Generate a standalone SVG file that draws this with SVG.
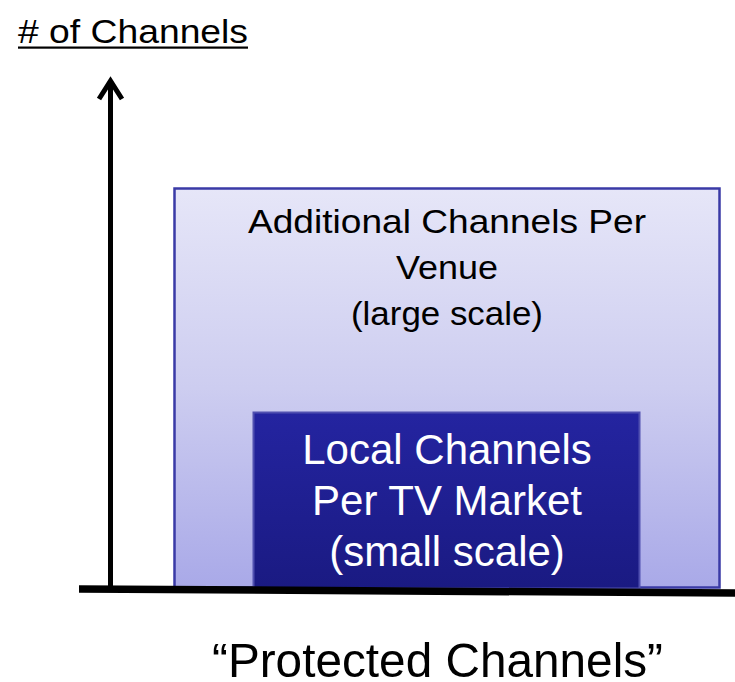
<svg xmlns="http://www.w3.org/2000/svg" width="735" height="682" viewBox="0 0 735 682">
<defs>
<linearGradient id="gOuter" x1="0" y1="0" x2="0" y2="1">
<stop offset="0" stop-color="#e6e6f8"/>
<stop offset="0.5" stop-color="#cdcdf0"/>
<stop offset="1" stop-color="#a9a9e8"/>
</linearGradient>
<linearGradient id="gInner" x1="0" y1="0" x2="0" y2="1">
<stop offset="0" stop-color="#2424a0"/>
<stop offset="1" stop-color="#1a1a82"/>
</linearGradient>
</defs>
<style>
text{font-family:"Liberation Sans",Arial,sans-serif;}
.dark{fill:#000;font-size:33px;}
.light{fill:#fff;font-size:42px;}
</style>
<rect width="735" height="682" fill="#fff"/>
<g id="outer-box">
<rect x="174.5" y="188.5" width="545" height="399" fill="url(#gOuter)" stroke="#3a3aa6" stroke-width="2.5"/>
<text class="dark" x="447" y="233" text-anchor="middle" textLength="398" lengthAdjust="spacingAndGlyphs">Additional Channels Per</text>
<text class="dark" x="447" y="279" text-anchor="middle" textLength="102" lengthAdjust="spacingAndGlyphs">Venue</text>
<text class="dark" x="447" y="325" text-anchor="middle" textLength="192" lengthAdjust="spacingAndGlyphs">(large scale)</text>
</g>
<g id="inner-box">
<rect x="253.5" y="412.5" width="386" height="176" fill="url(#gInner)" stroke="#5050b0" stroke-width="2"/>
<text class="light" x="447" y="464" text-anchor="middle">Local Channels</text>
<text class="light" x="447" y="515" text-anchor="middle">Per TV Market</text>
<text class="light" x="447" y="566" text-anchor="middle">(small scale)</text>
</g>
<g id="axes">
<line x1="110.5" y1="588" x2="110.5" y2="82" stroke="#000" stroke-width="5"/>
<polyline points="99,99 110.5,81 122,99" fill="none" stroke="#000" stroke-width="5" stroke-linejoin="miter"/>
<line x1="79" y1="589" x2="735" y2="593" stroke="#000" stroke-width="7.5"/>
</g>
<g id="labels">
<text x="18" y="43" font-size="33" fill="#000" textLength="230" lengthAdjust="spacingAndGlyphs"># of Channels</text>
<rect x="18" y="46.5" width="230" height="2.2" fill="#000"/>
<text x="437.5" y="677" font-size="49" fill="#000" text-anchor="middle" textLength="451" lengthAdjust="spacingAndGlyphs">“Protected Channels”</text>
</g>
</svg>
